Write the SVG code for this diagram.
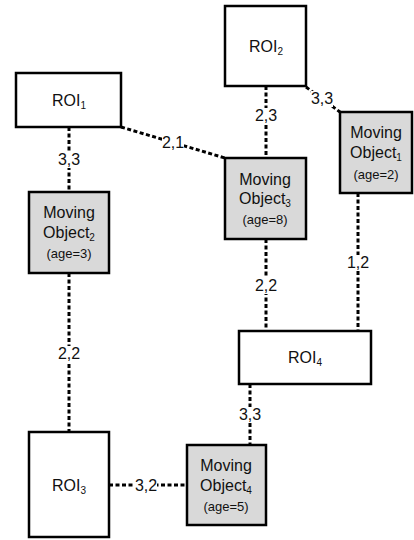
<svg xmlns="http://www.w3.org/2000/svg" width="414" height="540" viewBox="0 0 414 540">
  <style>
    .roi { fill: #ffffff; stroke: #000000; stroke-width: 2.5; }
    .obj { fill: #d9d9d9; stroke: #000000; stroke-width: 2.5; }
    .link { fill: none; stroke: #000000; stroke-width: 3; stroke-dasharray: 4 2.5; }
    .pad { fill: #ffffff; stroke: none; }
    text { font-family: "Liberation Sans", Arial, sans-serif; fill: #111111; text-anchor: middle; }
    .name { font-size: 16px; }
    .sub { font-size: 10px; }
    .age { font-size: 13px; }
    .lbl { font-size: 16px; }
  </style>

  <g id="connectors">
    <line class="link" x1="69" y1="127" x2="69" y2="192"/>
    <line class="link" x1="121" y1="127" x2="225" y2="158"/>
    <line class="link" x1="266" y1="86" x2="266" y2="158"/>
    <line class="link" x1="306" y1="87" x2="340" y2="112"/>
    <line class="link" x1="358" y1="193" x2="358" y2="331"/>
    <line class="link" x1="266" y1="239" x2="266" y2="331"/>
    <line class="link" x1="69" y1="273" x2="69" y2="432"/>
    <line class="link" x1="250" y1="384" x2="250" y2="445"/>
    <line class="link" x1="109" y1="485" x2="187" y2="485"/>

    <!-- label backgrounds break the dashed lines -->
    <rect class="pad" x="58" y="152" width="22" height="16"/>
    <rect class="pad" x="162" y="135" width="22" height="16"/>
    <rect class="pad" x="255" y="108" width="22" height="16"/>
    <rect class="pad" x="311" y="91" width="22" height="16"/>
    <rect class="pad" x="347" y="255" width="22" height="16"/>
    <rect class="pad" x="255" y="278" width="22" height="16"/>
    <rect class="pad" x="58" y="346" width="22" height="16"/>
    <rect class="pad" x="239" y="407" width="22" height="16"/>
    <rect class="pad" x="135" y="478" width="22" height="16"/>

    <text class="lbl" x="69" y="165">3,3</text>
    <text class="lbl" x="173" y="148">2,1</text>
    <text class="lbl" x="266" y="121">2,3</text>
    <text class="lbl" x="322" y="104">3,3</text>
    <text class="lbl" x="358" y="268">1,2</text>
    <text class="lbl" x="266" y="291">2,2</text>
    <text class="lbl" x="69" y="359">2,2</text>
    <text class="lbl" x="250" y="420">3,3</text>
    <text class="lbl" x="146" y="491">3,2</text>
  </g>

  <g id="roi1">
    <rect class="roi" x="16" y="73" width="105" height="54"/>
    <text class="name" x="69" y="106">ROI<tspan class="sub" dy="3">1</tspan></text>
  </g>

  <g id="roi2">
    <rect class="roi" x="225" y="6" width="81" height="80"/>
    <text class="name" x="266" y="52">ROI<tspan class="sub" dy="3">2</tspan></text>
  </g>

  <g id="roi3">
    <rect class="roi" x="29" y="432" width="80" height="105"/>
    <text class="name" x="69" y="491">ROI<tspan class="sub" dy="3">3</tspan></text>
  </g>

  <g id="roi4">
    <rect class="roi" x="239" y="331" width="132" height="53"/>
    <text class="name" x="305" y="363">ROI<tspan class="sub" dy="3">4</tspan></text>
  </g>

  <g id="moving-object-1">
    <rect class="obj" x="340" y="112" width="72" height="81"/>
    <text class="name" x="376" y="138">Moving</text>
    <text class="name" x="376" y="158">Object<tspan class="sub" dy="3">1</tspan></text>
    <text class="age" x="376" y="179">(age=2)</text>
  </g>

  <g id="moving-object-2">
    <rect class="obj" x="29" y="192" width="80" height="81"/>
    <text class="name" x="69" y="218">Moving</text>
    <text class="name" x="69" y="238">Object<tspan class="sub" dy="3">2</tspan></text>
    <text class="age" x="69" y="258">(age=3)</text>
  </g>

  <g id="moving-object-3">
    <rect class="obj" x="225" y="158" width="81" height="81"/>
    <text class="name" x="265" y="185">Moving</text>
    <text class="name" x="265" y="204">Object<tspan class="sub" dy="3">3</tspan></text>
    <text class="age" x="265" y="224">(age=8)</text>
  </g>

  <g id="moving-object-4">
    <rect class="obj" x="187" y="445" width="79" height="80"/>
    <text class="name" x="226" y="471">Moving</text>
    <text class="name" x="226" y="491">Object<tspan class="sub" dy="3">4</tspan></text>
    <text class="age" x="226" y="511">(age=5)</text>
  </g>
</svg>
